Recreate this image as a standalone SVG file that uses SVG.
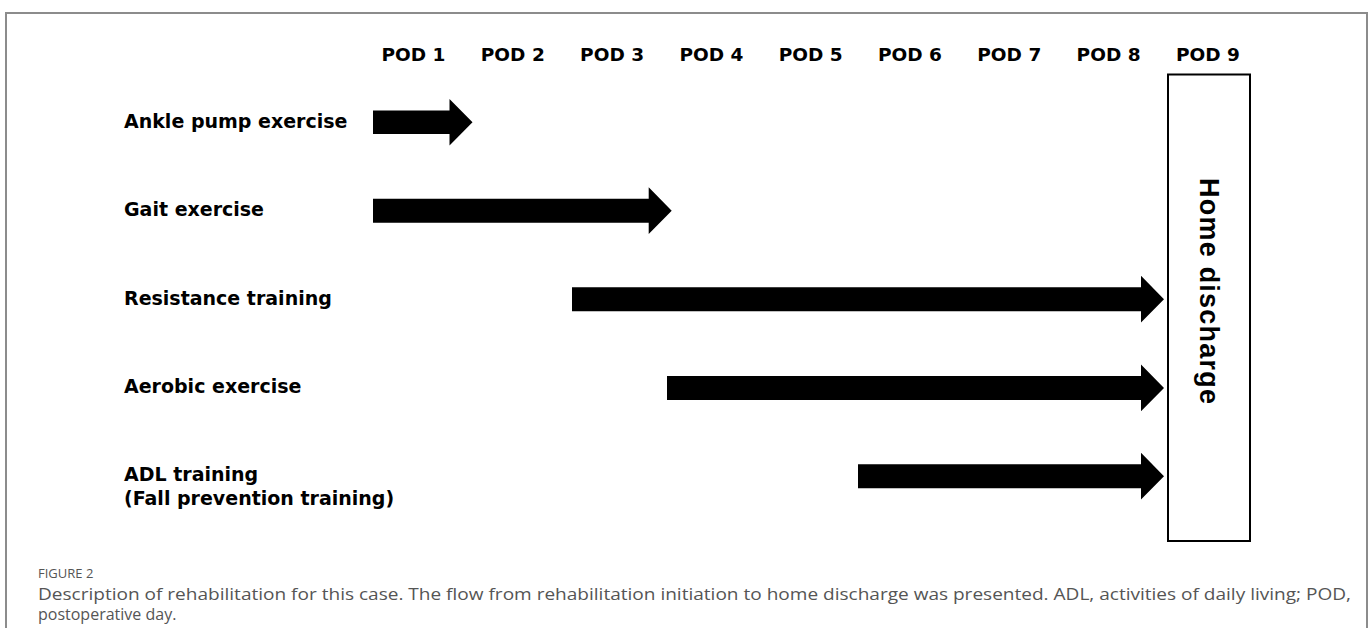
<svg xmlns="http://www.w3.org/2000/svg" width="1371" height="628" viewBox="0 0 1371 628">
<style>
.pod{font-family:"DejaVu Sans",Verdana,sans-serif;font-weight:bold;font-size:18.5px;fill:#000;text-anchor:middle}
.lbl{font-family:"DejaVu Sans",Verdana,sans-serif;font-weight:bold;font-size:19px;fill:#000}
.cap{font-family:"Open Sans","Liberation Sans",sans-serif;fill:#555}
.arrow{fill:#000}
</style>
<rect width="1371" height="628" fill="#fff"/>
<rect x="6" y="13" width="1361" height="640" fill="none" stroke="#8c8c8c" stroke-width="2"/>
<g id="pods">
<text class="pod" x="413.5" y="61">POD 1</text>
<text class="pod" x="512.8" y="61">POD 2</text>
<text class="pod" x="612.1" y="61">POD 3</text>
<text class="pod" x="711.4" y="61">POD 4</text>
<text class="pod" x="810.7" y="61">POD 5</text>
<text class="pod" x="910" y="61">POD 6</text>
<text class="pod" x="1009.3" y="61">POD 7</text>
<text class="pod" x="1108.6" y="61">POD 8</text>
<text class="pod" x="1207.9" y="61">POD 9</text>
</g>
<g id="label-ankle"><text class="lbl" x="124" y="127.5">Ankle pump exercise</text></g>
<g id="label-gait"><text class="lbl" x="124" y="216">Gait exercise</text></g>
<g id="label-resistance"><text class="lbl" x="124" y="304.5">Resistance training</text></g>
<g id="label-aerobic"><text class="lbl" x="124" y="393">Aerobic exercise</text></g>
<g id="label-adl"><text class="lbl" x="124" y="481">ADL training</text><text class="lbl" x="124" y="505">(Fall prevention training)</text></g>
<g id="home-discharge">
<rect x="1168" y="74.5" width="82" height="466.5" fill="#fff" stroke="#000" stroke-width="2"/>
<text x="0" y="0" transform="translate(1200,291) rotate(90)" text-anchor="middle" font-family="Liberation Sans,Arial,sans-serif" font-weight="bold" font-size="27" textLength="226" lengthAdjust="spacing">Home discharge</text>
</g>
<g id="connectors">
<path class="arrow" d="M373,110.5H449.5V99L472.5,122.3L449.5,145.5V134H373Z"/>
<path class="arrow" d="M373,198.7H648.7V187.3L671.7,210.7L648.7,234.1V222.7H373Z"/>
<path class="arrow" d="M572,287.3H1141V275.8L1164,299.2L1141,322.6V311.3H572Z"/>
<path class="arrow" d="M667,376H1141V364.5L1164,387.9L1141,411.3V400H667Z"/>
<path class="arrow" d="M858,464.3H1141V452.8L1164,476.2L1141,499.6V488.3H858Z"/>
</g>
<g id="caption">
<text class="cap" x="38" y="578" font-size="13">FIGURE 2</text>
<text class="cap" x="38" y="600" font-size="16" textLength="1313" lengthAdjust="spacingAndGlyphs">Description of rehabilitation for this case. The flow from rehabilitation initiation to home discharge was presented. ADL, activities of daily living; POD,</text>
<text class="cap" x="38" y="620" font-size="16">postoperative day.</text>
</g>
</svg>
